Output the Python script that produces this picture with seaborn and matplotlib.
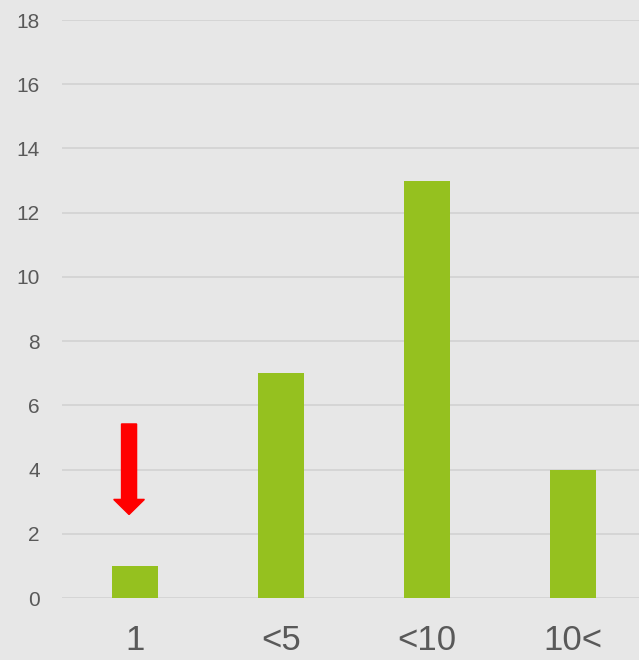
import matplotlib
matplotlib.use("Agg")
import matplotlib.pyplot as plt
import seaborn as sns
import pandas as pd

categories = ["1", "<5", "<10", "10<"]
counts = [1, 7, 13, 4]
y_ticks = list(range(0, 19, 2))

df = pd.DataFrame({"group": categories, "count": counts})

sns.set_style("white")
plt.rcParams["font.family"] = ["Liberation Sans", "DejaVu Sans"]

bg = "#e7e7e7"
fig = plt.figure(figsize=(6.39, 6.60), dpi=100, facecolor=bg)
ax = fig.add_axes([62 / 639, 62 / 660, 577 / 639, 578 / 660])
ax.set_facecolor(bg)

sns.barplot(data=df, x="group", y="count", color="#95c11f", saturation=1,
            width=0.315, linewidth=0, edgecolor="none", ax=ax, zorder=3)

ax.set_ylim(0, 18)
ax.set_xlim(-0.5, 3.45)
ax.set_yticks(y_ticks)
ax.grid(axis="y", color="#d2d2d2", linewidth=1.2, zorder=0)
ax.set_axisbelow(True)
for s in ax.spines.values():
    s.set_visible(False)
ax.tick_params(axis="y", length=0, pad=16, labelsize=15, labelcolor="#595959")
ax.tick_params(axis="x", length=0, pad=19, labelsize=25, labelcolor="#595959")
ax.set_xlabel("")
ax.set_ylabel("")

# red arrow pointing at the first bar
ax.arrow(-0.041, 5.42, 0, -2.82, width=0.103, head_width=0.21, head_length=0.47,
         length_includes_head=True, color="#ff0000", zorder=4)

fig.savefig("out.png", dpi=100, facecolor=bg)
